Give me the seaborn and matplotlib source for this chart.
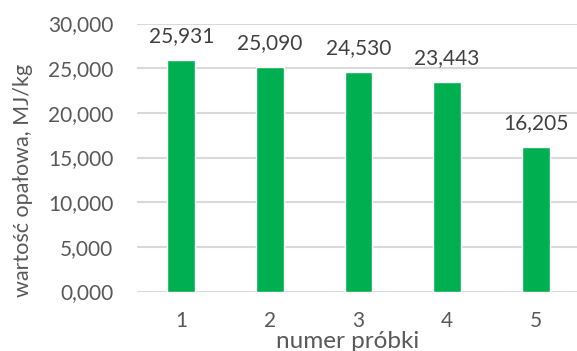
import matplotlib
matplotlib.use("Agg")
import matplotlib.pyplot as plt
import seaborn as sns
import pandas as pd

categories = ["1", "2", "3", "4", "5"]
values = [25.931, 25.090, 24.530, 23.443, 16.205]
y_ticks = [0, 5, 10, 15, 20, 25, 30]
y_tick_labels = ["0,000", "5,000", "10,000", "15,000", "20,000", "25,000", "30,000"]

sns.set_theme(style="white")
plt.rcParams['font.family'] = ['Lato', 'DejaVu Sans']

df = pd.DataFrame({"numer": categories, "val": values})

W, H = 577, 351
fig = plt.figure(figsize=(W / 100, H / 100), dpi=100)
y0, y30 = 291.5, 23.5
ax = fig.add_axes([137 / W, 1 - y0 / H, (580 - 137) / W, (y0 - y30) / H])
sns.barplot(data=df, x="numer", y="val", color="#00B050", width=0.316,
            saturation=1, ax=ax, zorder=3)

txt = "#595959"
ax.set_xlim(-0.5, 4.5)
ax.set_ylim(0, 30)
ax.set_yticks(y_ticks)
ax.set_yticklabels(y_tick_labels)
ax.grid(axis="y", color="#D9D9D9", linewidth=1.5, zorder=0)
ax.set_axisbelow(True)
for s in ["top", "right", "left", "bottom"]:
    ax.spines[s].set_visible(False)
ax.tick_params(axis="both", length=0, labelsize=15, colors=txt)
ax.tick_params(axis="y", pad=17)
ax.tick_params(axis="x", pad=14)

ax.set_xlabel("numer próbki", fontsize=17.5, color=txt, va="baseline")
ax.xaxis.set_label_coords(347.5 / W, 1 - 348 / H, transform=fig.transFigure)
ax.set_ylabel("wartość opałowa, MJ/kg", fontsize=15.5, color=txt, va="center")
ax.yaxis.set_label_coords(23 / W, 1 - 180 / H, transform=fig.transFigure)

for i, v in enumerate(values):
    ax.text(i, v + 2.7, f"{v:.3f}".replace(".", ","), ha="center", va="center",
            fontsize=15, color="#404040")

fig.savefig("out.png", dpi=100)
